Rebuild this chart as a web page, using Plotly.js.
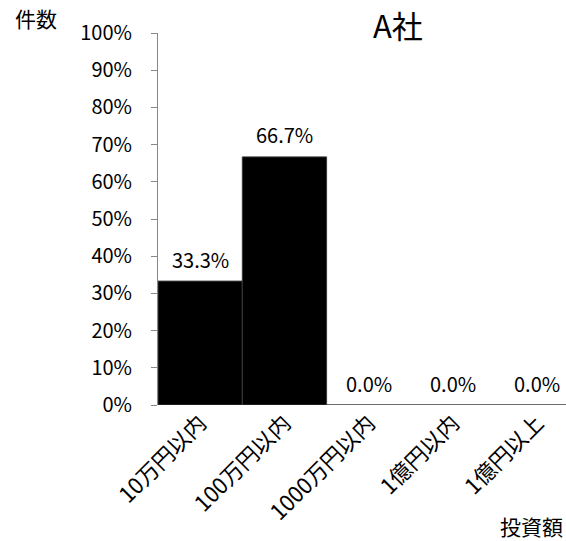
<!DOCTYPE html>
<html>
<head>
<meta charset="utf-8">
<script src="https://cdn.plot.ly/plotly-3.0.1.min.js"></script>
<style>
  html, body { margin: 0; padding: 0; background: #fff; }
  #chart { width: 566px; height: 541px; }
</style>
</head>
<body>
<div id="chart"></div>
<script>
// 投資額ごとの件数の割合（A社）
const categories = ["10万円以内", "100万円以内", "1000万円以内", "1億円以内", "1億円以上"];
const shares = [33.3, 66.7, 0.0, 0.0, 0.0];
const yTickValues = [0, 10, 20, 30, 40, 50, 60, 70, 80, 90, 100];
const yTickLabels = ["0%", "10%", "20%", "30%", "40%", "50%", "60%", "70%", "80%", "90%", "100%"];

const FONT = '"Noto Sans CJK JP", "Noto Sans", sans-serif';

const xs = categories.map((_, i) => i);

const trace = {
  type: "bar",
  x: xs,
  y: shares,
  marker: { color: "#000000", line: { color: "#3a3a3a", width: 1 } },
  hoverinfo: "none"
};

// value labels sit a fixed distance above each bar top
const valueLabels = shares.map((v, i) => ({
  text: v.toFixed(1) + "%",
  xref: "x", yref: "y",
  x: xs[i], y: v,
  xanchor: "center", yanchor: "middle",
  yshift: 22,
  showarrow: false,
  font: { family: FONT, size: 20, color: "#000" }
}));

const layout = {
  width: 566,
  height: 541,
  margin: { l: 158, r: 0, t: 33, b: 136 },
  paper_bgcolor: "#fff",
  plot_bgcolor: "#fff",
  showlegend: false,
  bargap: 0,
  font: { family: FONT, size: 20, color: "#000" },
  xaxis: {
    range: [-0.5, 4.34],
    tickmode: "array",
    tickvals: xs,
    ticktext: categories,
    tickangle: -45,
    ticks: "",
    showline: false,
    showgrid: false,
    zeroline: false,
    tickfont: { family: FONT, size: 22, color: "#000" }
  },
  yaxis: {
    range: [0, 100],
    tickmode: "array",
    tickvals: yTickValues,
    ticktext: yTickLabels,
    ticks: "outside",
    ticklen: 6,
    tickcolor: "#888",
    tickwidth: 1,
    ticklabelstandoff: 15,
    showline: true,
    linecolor: "#888",
    linewidth: 1,
    showgrid: false,
    zeroline: false,
    tickfont: { family: FONT, size: 20, color: "#000" }
  },
  annotations: valueLabels.concat([
    {
      // chart title
      text: "A社", xref: "paper", yref: "paper",
      x: (398 - 158) / 408, y: 1,
      xanchor: "center", yanchor: "middle",
      yshift: 9,
      showarrow: false,
      font: { family: FONT, size: 31, color: "#000" }
    },
    {
      text: "件数", xref: "paper", yref: "paper",
      x: -145 / 408, y: 1,
      xanchor: "left", yanchor: "middle",
      yshift: 15,
      showarrow: false,
      font: { family: FONT, size: 21, color: "#000" }
    },
    {
      text: "投資額", xref: "paper", yref: "paper",
      x: 1, y: 0,
      xanchor: "right", yanchor: "middle",
      yshift: -121,
      xshift: -1,
      showarrow: false,
      font: { family: FONT, size: 21, color: "#000" }
    }
  ])
};

Plotly.newPlot("chart", [trace], layout, { displayModeBar: false, staticPlot: true });
</script>
</body>
</html>
